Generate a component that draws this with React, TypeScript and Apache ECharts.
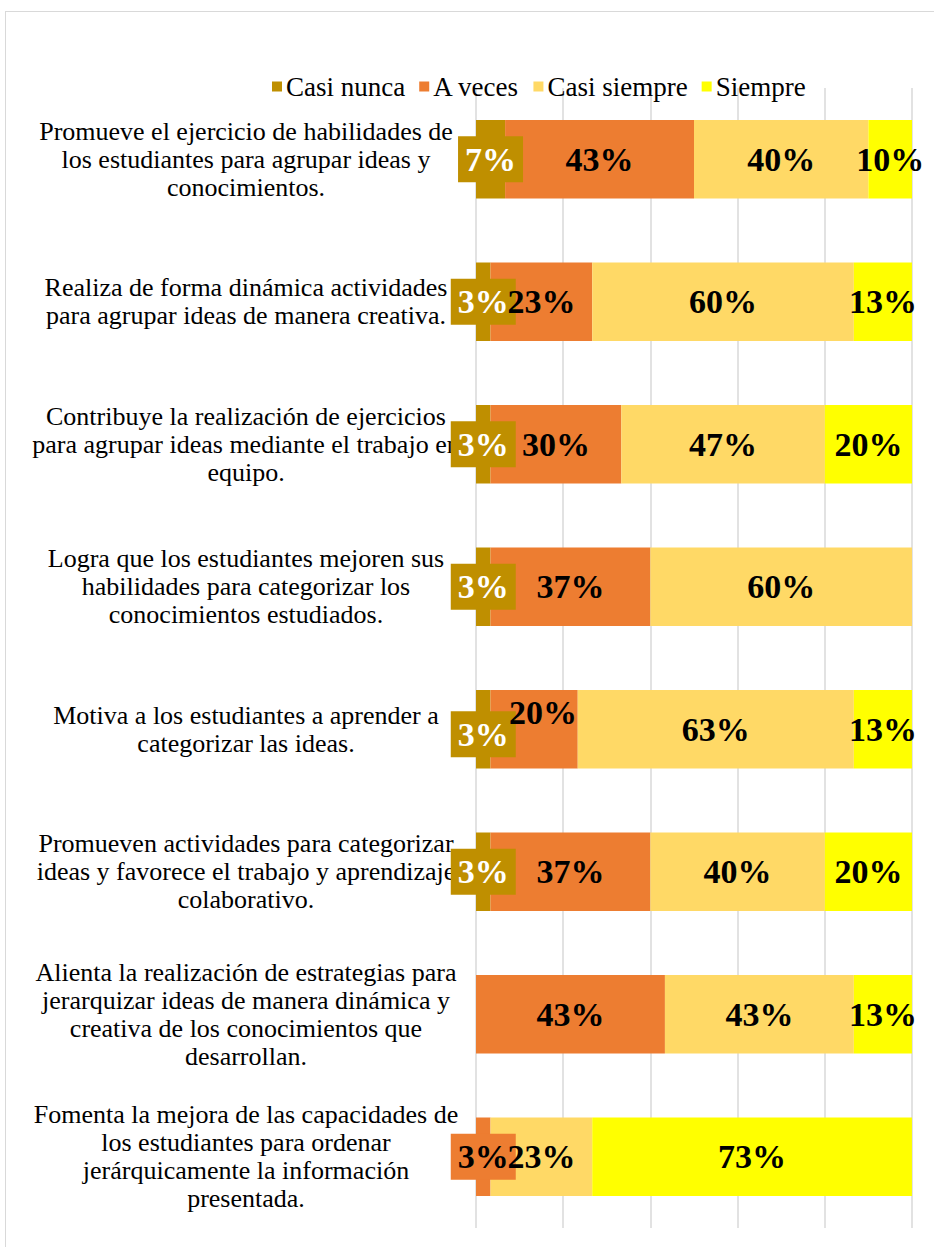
import React, { useEffect, useRef } from "react";
import * as echarts from "echarts";

const categories = [
  "Promueve el ejercicio de habilidades de\nlos estudiantes para agrupar ideas y\nconocimientos.",
  "Realiza de forma dinámica actividades\npara agrupar ideas de manera creativa.",
  "Contribuye la realización de ejercicios\npara agrupar ideas mediante el trabajo en\nequipo.",
  "Logra que los estudiantes mejoren sus\nhabilidades para categorizar los\nconocimientos estudiados.",
  "Motiva a los estudiantes a aprender a\ncategorizar las ideas.",
  "Promueven actividades para categorizar\nideas y favorece el trabajo y aprendizaje\ncolaborativo.",
  "Alienta la realización de estrategias para\njerarquizar ideas de manera dinámica y\ncreativa de los conocimientos que\ndesarrollan.",
  "Fomenta la mejora de las capacidades de\nlos estudiantes para ordenar\njerárquicamente la información\npresentada.",
];

// Percentages (30 respondents -> multiples of 3.33 %), shown rounded
const casiNunca = [6.67, 3.33, 3.33, 3.33, 3.33, 3.33, 0, 0];
const aVeces = [43.33, 23.33, 30, 36.67, 20, 36.67, 43.33, 3.33];
const casiSiempre = [40, 60, 46.67, 60, 63.33, 40, 43.33, 23.33];
const siempre = [10, 13.33, 20, 0, 13.33, 20, 13.33, 73.33];

const seriesNames = ["Casi nunca", "A veces", "Casi siempre", "Siempre"];
const seriesColors = ["#BF8F00", "#ED7D31", "#FFD966", "#FFFF00"];

const FONT = "'Liberation Serif', 'Times New Roman', serif";

export default function App() {
  const ref = useRef<HTMLDivElement>(null);

  useEffect(() => {
    if (!ref.current) return;
    const chart = echarts.init(ref.current, null, { renderer: "svg" });
    const dataSets = [casiNunca, aVeces, casiSiempre, siempre];
    const series = dataSets.map((vals, si) => ({
      name: seriesNames[si],
      type: "bar",
      stack: "total",
      barWidth: "55%",
      itemStyle: { color: seriesColors[si] },
      data: vals.map((v) => {
        if (v <= 0) return { value: v, label: { show: false } };
        // narrow segments get a label box in the segment colour
        if (v < 5) {
          return {
            value: v,
            label: { backgroundColor: seriesColors[si], padding: [6, 7, 6, 7] },
          };
        }
        return { value: v };
      }),
      label: {
        show: true,
        position: "inside",
        formatter: (p: any) => Math.round(p.value) + "%",
        fontFamily: FONT,
        fontWeight: "bold",
        fontSize: 34,
        lineHeight: 34,
        color: si === 0 ? "#ffffff" : "#000000",
        backgroundColor: si === 0 ? seriesColors[0] : "transparent",
        padding: si === 0 ? [6, 7, 6, 7] : 0,
      },
      labelLayout: (params: any) => {
        if (si === 1 && params.dataIndex === 4) return { dx: 9, dy: -17 };
        if (si === 0 && params.dataIndex === 4) return { dy: 5 };
        return {};
      },
      emphasis: { disabled: true },
    }));

    chart.setOption({
      animation: false,
      textStyle: { fontFamily: FONT },
      legend: {
        data: seriesNames,
        top: 68,
        left: 267,
        itemWidth: 10,
        itemHeight: 10,
        itemGap: 14,
        icon: "rect",
        textStyle: { fontFamily: FONT, fontSize: 27, color: "#000", padding: [0, 0, 0, -1] },
      },
      grid: { left: 476, right: 22, top: 88, bottom: 19, containLabel: false },
      xAxis: {
        type: "value",
        min: 0,
        max: 100,
        interval: 20,
        axisLabel: { show: false },
        axisLine: { show: false },
        axisTick: { show: false },
        splitLine: { show: true, lineStyle: { color: "#d9d9d9", width: 1.5 } },
      },
      yAxis: {
        type: "category",
        inverse: true,
        data: categories,
        axisLine: { show: false },
        axisTick: { show: false },
        axisLabel: {
          align: "center",
          margin: 230,
          fontFamily: FONT,
          fontSize: 26,
          lineHeight: 28,
          color: "#000",
        },
      },
      series,
    });
    return () => chart.dispose();
  }, []);

  return (
    <div
      style={{
        position: "fixed",
        left: 0,
        top: 0,
        width: 934,
        height: 1247,
        overflow: "hidden",
        background: "#fff",
      }}
    >
      <div
        style={{
          position: "absolute",
          left: 5,
          top: 11,
          width: 1000,
          height: 1400,
          border: "1px solid #d9d9d9",
        }}
      />
      <div ref={ref} style={{ position: "absolute", left: 0, top: 0, width: 934, height: 1247 }} />
    </div>
  );
}
